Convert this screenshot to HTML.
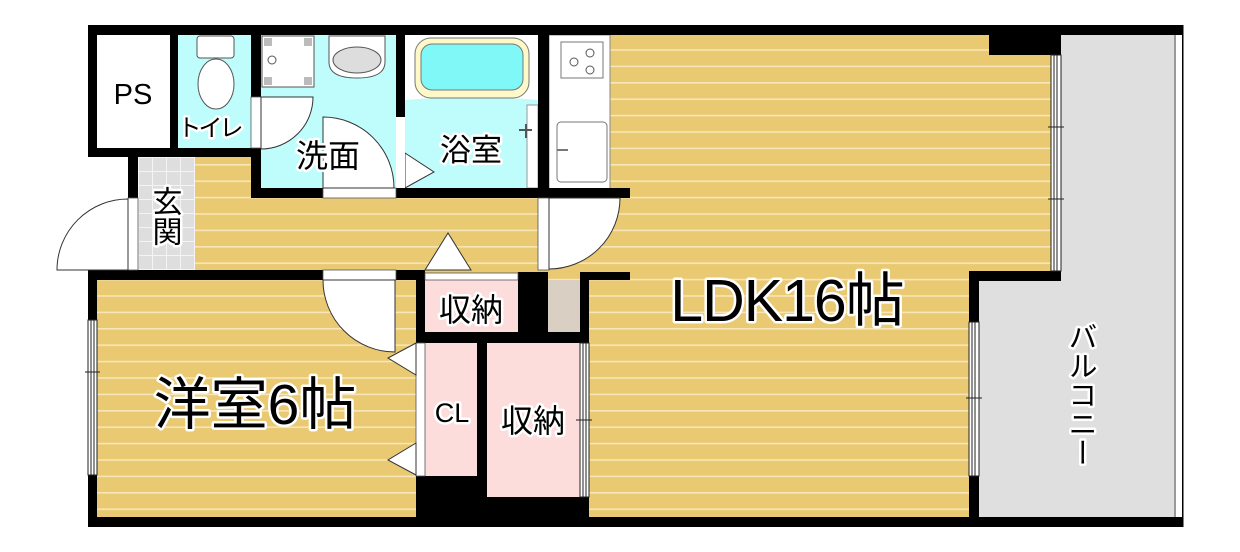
<!DOCTYPE html>
<html><head><meta charset="utf-8"><style>
html,body{margin:0;padding:0;background:#fff;}
svg{display:block;}
text{font-family:"Liberation Sans","Noto Sans CJK JP",sans-serif;}
</style></head><body>
<svg width="1240" height="552" viewBox="0 0 1240 552" xmlns="http://www.w3.org/2000/svg">
<defs>
<pattern id="wood" patternUnits="userSpaceOnUse" width="20" height="16.4">
<rect width="20" height="16.4" fill="#e9c972"/>
<rect y="0" width="20" height="1.6" fill="#f7e7b8"/>
</pattern>
<pattern id="tile" patternUnits="userSpaceOnUse" width="14" height="14" x="138" y="157">
<rect width="14" height="14" fill="#dedede"/>
<path d="M0 0.5H14M0.5 0V14" stroke="#f4f4f4" stroke-width="1"/>
</pattern>
</defs>

<rect x="88" y="25" width="973" height="502" fill="url(#wood)"/>
<rect x="80" y="157" width="48" height="113" fill="#fff"/>
<rect x="1061" y="35" width="114" height="482" fill="#dfdfdf"/>
<rect x="979" y="281" width="82" height="236" fill="#dfdfdf"/>
<rect x="1174" y="25" width="2" height="502" fill="#999"/>
<rect x="1176" y="25" width="6" height="502" fill="#fff"/>
<rect x="1182" y="25" width="1.5" height="502" fill="#000"/>

<rect x="97" y="35" width="73" height="113" fill="#fff"/>
<rect x="178" y="35" width="73" height="113" fill="#bffcfc"/>
<rect x="197" y="36" width="37" height="22" rx="3" fill="#fff" stroke="#555"/>
<ellipse cx="216" cy="84" rx="18" ry="25" fill="#fff" stroke="#555"/>
<rect x="261" y="35" width="135" height="153" fill="#bffcfc"/>
<rect x="262" y="36" width="52" height="51" fill="#fff" stroke="#555"/>
<rect x="264" y="38" width="8" height="8" fill="#bbb"/><rect x="304" y="38" width="8" height="8" fill="#bbb"/>
<rect x="264" y="77" width="8" height="8" fill="#bbb"/><rect x="304" y="77" width="8" height="8" fill="#bbb"/>
<circle cx="272" cy="60" r="4" fill="#fff" stroke="#555"/>
<path d="M329 36H385V62Q385 78 357 78Q329 78 329 62Z" fill="#fff" stroke="#555"/>
<ellipse cx="357" cy="60" rx="24" ry="13" fill="#ddd" stroke="#555"/>
<rect x="405" y="35" width="133" height="153" fill="#bffcfc"/>
<path d="M405 35H538V100Q470 94 405 100Z" fill="#fff"/>
<rect x="415" y="38" width="114" height="60" rx="16" fill="#fff8c8" stroke="#777"/>
<rect x="421" y="44" width="102" height="46" rx="11" fill="#80f8f8" stroke="#777"/>
<rect x="527" y="105" width="11" height="83" fill="#fff" stroke="#999"/>
<path d="M519 130H532M526 124V138" stroke="#555" stroke-width="2"/>
<path d="M405 153L434 172L405 188Z" fill="#fff" stroke="#333"/>
<rect x="396" y="117" width="9" height="71" fill="#fff"/>
<rect x="549" y="35" width="61" height="155" fill="#fff" stroke="#888"/>
<rect x="561" y="42" width="42" height="36" fill="#fff" stroke="#777"/>
<circle cx="574" cy="62" r="4" fill="#fff" stroke="#555"/>
<circle cx="590" cy="53" r="4" fill="#fff" stroke="#555"/>
<circle cx="590" cy="70" r="4" fill="#fff" stroke="#555"/>
<rect x="557" y="122" width="50" height="60" rx="4" fill="#fff" stroke="#777"/>
<path d="M557 150H568" stroke="#777" stroke-width="2"/>
<rect x="138" y="157" width="57" height="113" fill="url(#tile)"/>

<rect x="425" y="280" width="93" height="52" fill="#fddcdc"/>
<rect x="548" y="280" width="32" height="52" fill="#d9cfc3"/>
<rect x="425" y="343" width="52" height="133" fill="#fddcdc"/>
<rect x="487" y="343" width="93" height="154" fill="#fddcdc"/>

<g fill="#000">
<rect x="88" y="25" width="1095" height="10"/>
<rect x="88" y="517" width="1095" height="10"/>
<rect x="88" y="25" width="9" height="132"/>
<rect x="88" y="148" width="173" height="9"/>
<rect x="170" y="35" width="8" height="113"/>
<rect x="251" y="35" width="10" height="62"/>
<rect x="251" y="148" width="10" height="50"/>
<rect x="128" y="148" width="10" height="50"/>
<rect x="251" y="188" width="379" height="10"/>
<rect x="396" y="35" width="9" height="82"/>
<rect x="538" y="35" width="11" height="163"/>
<rect x="989" y="35" width="72" height="20"/>
<rect x="969" y="271" width="92" height="10"/>
<rect x="969" y="271" width="10" height="246"/>
<rect x="88" y="270" width="9" height="257"/>
<rect x="88" y="270" width="337" height="10"/>
<rect x="518" y="272" width="30" height="60"/>
<rect x="580" y="272" width="50" height="8"/>
<rect x="416" y="272" width="9" height="255"/>
<rect x="416" y="332" width="173" height="11"/>
<rect x="477" y="343" width="10" height="184"/>
<rect x="416" y="476" width="71" height="51"/>
<rect x="487" y="497" width="102" height="30"/>
<rect x="580" y="272" width="9" height="255"/>
</g>
<rect x="251" y="97" width="10" height="51" fill="#fff" stroke="#555" stroke-width="0.8"/>
<rect x="323" y="188" width="73" height="10" fill="#fff" stroke="#555" stroke-width="0.8"/>
<rect x="538" y="198" width="11" height="72" fill="#fff" stroke="#555" stroke-width="0.8"/>
<rect x="128" y="198" width="10" height="72" fill="#fff" stroke="#555" stroke-width="0.8"/>
<rect x="323" y="270" width="73" height="10" fill="#fff" stroke="#555" stroke-width="0.8"/>
<rect x="425" y="273" width="93" height="7" fill="#fff" stroke="#555" stroke-width="0.8"/>
<rect x="416" y="343" width="9" height="133" fill="#fff" stroke="#555" stroke-width="0.8"/>

<g fill="#fff" stroke="#222" stroke-width="1">
<rect x="88" y="320" width="9" height="155"/>
<path d="M91 320V475M94 320V475M85 372H100" fill="none"/>
<rect x="580" y="343" width="9" height="154"/>
<path d="M583 343V497M586 343V497M576 420H592" fill="none"/>
<rect x="969" y="322" width="10" height="154"/>
<path d="M972 322V476M975 322V476M966 398H982" fill="none"/>
<rect x="1051" y="55" width="10" height="216"/>
<path d="M1054 55V271M1057 55V271M1048 127H1064M1048 199H1064" fill="none"/>
</g>

<g fill="#fff" stroke="#333" stroke-width="1">
<path d="M128 270L128 199A71 71 0 0 0 57 270Z"/>
<path d="M261 97L313 97A52 52 0 0 1 261 149Z"/>
<path d="M323 188L323 117A71 71 0 0 1 394 188Z"/>
<path d="M549 198L620 198A71 71 0 0 1 549 269Z"/>
<path d="M395 280L395 352A72 72 0 0 1 323 280Z"/>
<path d="M448 233L425 270L471 270Z"/>
<path d="M416 343L388 358L416 375Z"/>
<path d="M416 443L388 460L416 475Z"/>
</g>

<g fill="#000" stroke="#fff" stroke-width="5" paint-order="stroke" stroke-linejoin="round">
<text x="133" y="104" font-size="29" text-anchor="middle">PS</text>
<text x="209" y="136" font-size="24" text-anchor="middle" letter-spacing="-3">トイレ</text>
<text x="328" y="167" font-size="32" text-anchor="middle">洗面</text>
<text x="471" y="161" font-size="31" text-anchor="middle">浴室</text>
<text x="164" y="186" font-size="30" style="writing-mode:vertical-rl" writing-mode="tb">玄関</text>
<text x="471" y="321" font-size="32" text-anchor="middle">収納</text>
<text x="452" y="422" font-size="27" text-anchor="middle">CL</text>
<text x="533" y="432" font-size="32" text-anchor="middle">収納</text>
<text x="787" y="321" font-size="59" text-anchor="middle" letter-spacing="-1">LDK16帖</text>
<text x="255" y="424" font-size="57" text-anchor="middle">洋室6帖</text>
<text x="1080" y="322" font-size="29" style="writing-mode:vertical-rl" writing-mode="tb">バルコニー</text>
</g>
</svg>
</body></html>
